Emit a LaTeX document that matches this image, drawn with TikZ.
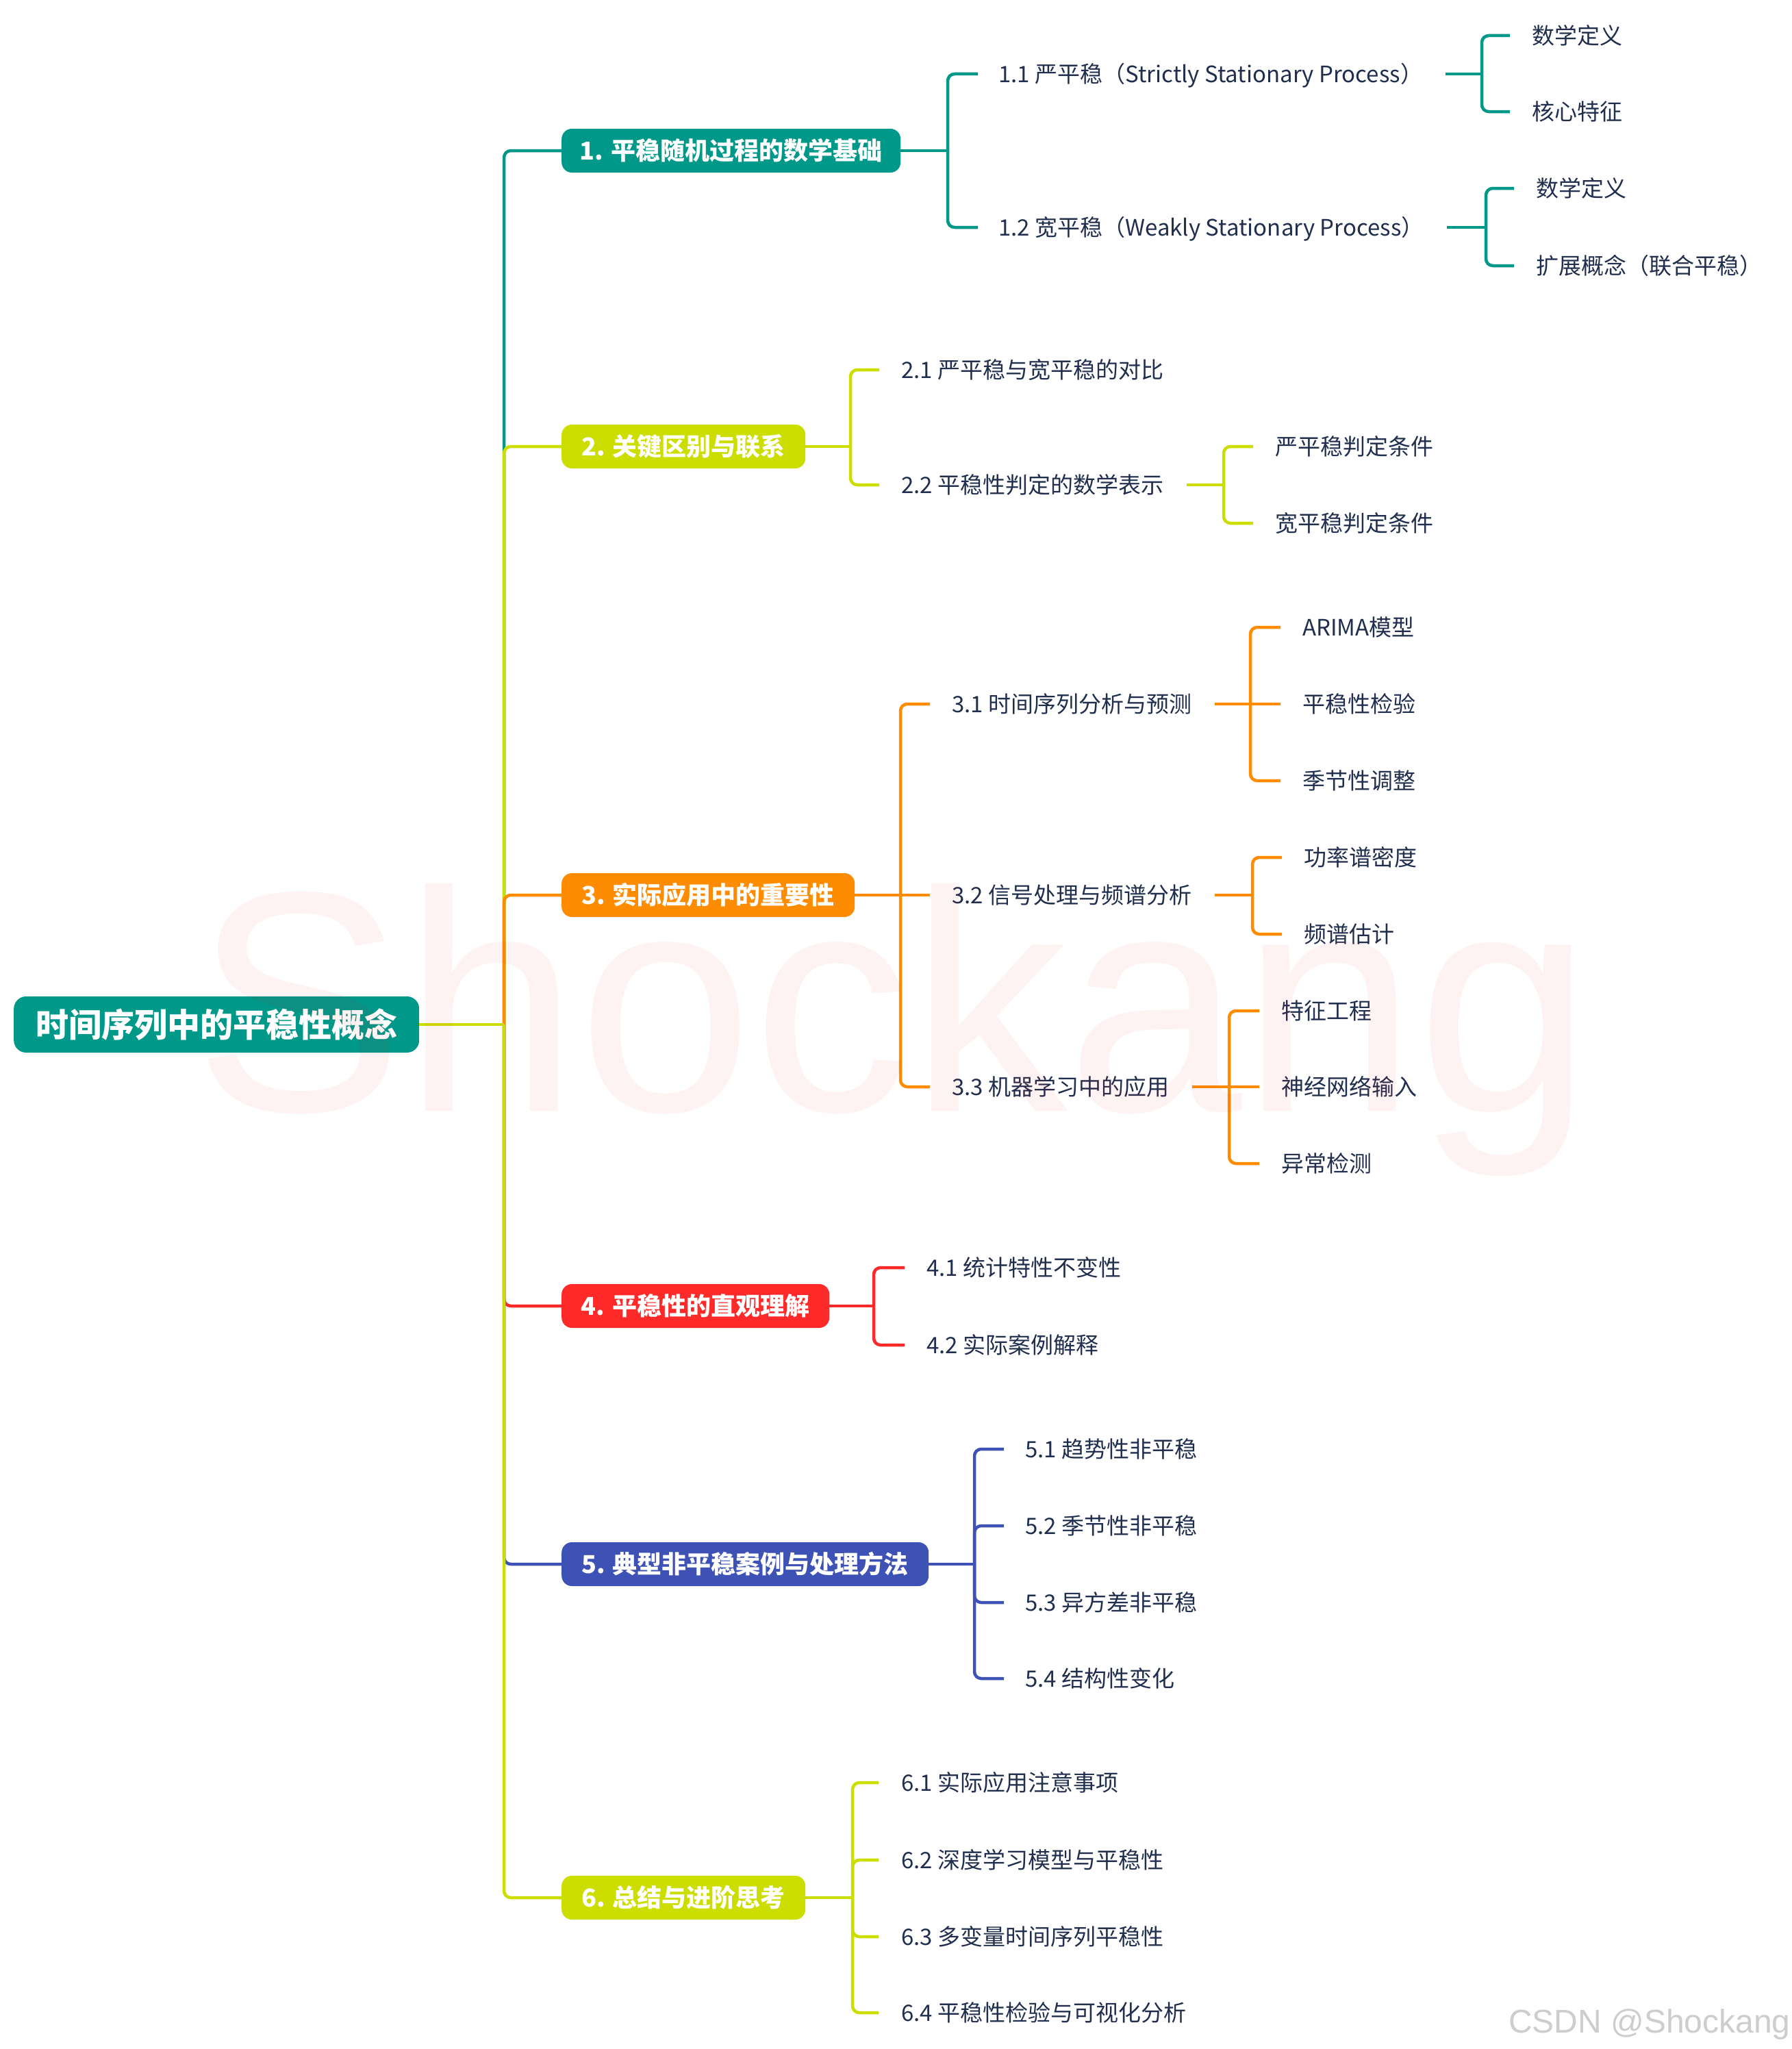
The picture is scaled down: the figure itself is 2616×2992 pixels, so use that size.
\documentclass[tikz,border=0pt]{standalone}
\usepackage{fontspec}
\setmainfont{Noto Sans CJK SC}
\newfontfamily\wmfam{Liberation Sans}
\definecolor{tealc}{RGB}{0,152,136}
\definecolor{ygc}{RGB}{204,221,0}
\definecolor{orc}{RGB}{255,140,0}
\definecolor{redc}{RGB}{254,42,42}
\definecolor{bluc}{RGB}{62,81,181}
\definecolor{navy}{RGB}{33,46,77}
\definecolor{csdng}{RGB}{205,205,205}
\newcommand\rootfnt{\fontsize{48pt}{48pt}\selectfont\bfseries}
\newcommand\brfnt{\fontsize{36pt}{36pt}\selectfont\bfseries}
\newcommand\subfnt{\fontsize{33pt}{33pt}\selectfont}
\newcommand\wmfnt{\wmfam\fontsize{459pt}{459pt}\selectfont}
\newcommand\csdnfnt{\wmfam\fontsize{48pt}{48pt}\selectfont}
\begin{document}
\begin{tikzpicture}[x=1pt,y=-1pt,
  ln/.style={line width=4.5pt, rounded corners=10pt},
  rootbox/.style={fill=tealc, text=white, font=\rootfnt, rounded corners=18pt, anchor=west,
    inner xsep=0pt, minimum width=592pt, minimum height=82pt, text height=42.2pt, text depth=5.8pt},
  rbox/.style={fill=#1, text=white, font=\brfnt, rounded corners=15pt, anchor=west,
    inner xsep=0pt, minimum height=64pt, text height=31.7pt, text depth=4.3pt},
  sub/.style={text=navy, font=\subfnt, anchor=west, inner sep=0pt, text height=29pt, text depth=4pt}]
\fill[white] (0,0) rectangle (2616,2992);
\useasboundingbox (0,0) rectangle (2616,2992);

% root and branches
\node[rootbox] (root) at (20,1496) {时间序列中的平稳性概念};
\coordinate (j0) at (736,1496);
\node[rbox=tealc, minimum width=495pt] (b1) at (820,220) {1. 平稳随机过程的数学基础};
\node[rbox=ygc, minimum width=356pt] (b2) at (820,652) {2. 关键区别与联系};
\node[rbox=orc, minimum width=428pt] (b3) at (820,1307) {3. 实际应用中的重要性};
\node[rbox=redc, minimum width=391pt] (b4) at (820,1907) {4. 平稳性的直观理解};
\node[rbox=bluc, minimum width=536pt] (b5) at (820,2284) {5. 典型非平稳案例与处理方法};
\node[rbox=ygc, minimum width=356pt] (b6) at (820,2771) {6. 总结与进阶思考};

% level 2 and 3 texts
\node[sub] (s11) at (1458,108) {1.1 严平稳（Strictly Stationary Process）};
\node[sub] (s12) at (1458,332) {1.2 宽平稳（Weakly Stationary Process）};
\node[sub] (l111) at (2237,52) {数学定义};
\node[sub] (l112) at (2237,163) {核心特征};
\node[sub] (l121) at (2243,275) {数学定义};
\node[sub] (l122) at (2243,388) {扩展概念（联合平稳）};

\node[sub] (s21) at (1316,540) {2.1 严平稳与宽平稳的对比};
\node[sub] (s22) at (1316,708) {2.2 平稳性判定的数学表示};
\node[sub] (l221) at (1862,652) {严平稳判定条件};
\node[sub] (l222) at (1862,764) {宽平稳判定条件};

\node[sub] (s31) at (1390,1028) {3.1 时间序列分析与预测};
\node[sub] (s32) at (1390,1307) {3.2 信号处理与频谱分析};
\node[sub] (s33) at (1390,1587) {3.3 机器学习中的应用};
\node[sub] (l311) at (1902,916) {ARIMA模型};
\node[sub] (l312) at (1902,1028) {平稳性检验};
\node[sub] (l313) at (1902,1140) {季节性调整};
\node[sub] (l321) at (1904,1252) {功率谱密度};
\node[sub] (l322) at (1904,1364) {频谱估计};
\node[sub] (l331) at (1871,1476) {特征工程};
\node[sub] (l332) at (1871,1587) {神经网络输入};
\node[sub] (l333) at (1871,1699) {异常检测};

\node[sub] (s41) at (1353,1851) {4.1 统计特性不变性};
\node[sub] (s42) at (1353,1964) {4.2 实际案例解释};

\node[sub] (s51) at (1497,2116) {5.1 趋势性非平稳};
\node[sub] (s52) at (1497,2228) {5.2 季节性非平稳};
\node[sub] (s53) at (1497,2340) {5.3 异方差非平稳};
\node[sub] (s54) at (1497,2451) {5.4 结构性变化};

\node[sub] (s61) at (1316,2603) {6.1 实际应用注意事项};
\node[sub] (s62) at (1316,2716) {6.2 深度学习模型与平稳性};
\node[sub] (s63) at (1316,2828) {6.3 多变量时间序列平稳性};
\node[sub] (s64) at (1316,2939) {6.4 平稳性检验与可视化分析};

% junctions
\coordinate (j1) at (1384,220);
\coordinate (j2) at (1242,652);
\coordinate (j3) at (1315,1307);
\coordinate (j4) at (1276,1907);
\coordinate (j5) at (1423,2284);
\coordinate (j6) at (1245,2771);
\coordinate (j11) at (2164,108);
\coordinate (j12) at (2170,332);
\coordinate (j22) at (1787,708);
\coordinate (j31) at (1826,1028);
\coordinate (j32) at (1829,1307);
\coordinate (j33) at (1795,1587);

% trunk
\draw[ln, tealc] (j0) |- (b1.west);
\draw[ln, ygc] (j0) |- (b2.west);
\draw[ln, orc] (j0) |- (b3.west);
\draw[ln, redc] (j0) |- (b4.west);
\draw[ln, bluc] (j0) |- (b5.west);
\draw[ln, ygc] (j0) |- (b6.west);
\draw[ln, ygc] (root.east) -- (j0);

% branch 1
\draw[ln, tealc] (b1.east) -- (j1);
\draw[ln, tealc] (j1) |- ([xshift=-30pt]s11.west);
\draw[ln, tealc] (j1) |- ([xshift=-30pt]s12.west);
\draw[ln, tealc] ([xshift=33pt]s11.east) -- (j11);
\draw[ln, tealc] (j11) |- ([xshift=-32pt]l111.west);
\draw[ln, tealc] (j11) |- ([xshift=-32pt]l112.west);
\draw[ln, tealc] ([xshift=33pt]s12.east) -- (j12);
\draw[ln, tealc] (j12) |- ([xshift=-32pt]l121.west);
\draw[ln, tealc] (j12) |- ([xshift=-32pt]l122.west);

% branch 2
\draw[ln, ygc] (b2.east) -- (j2);
\draw[ln, ygc] (j2) |- ([xshift=-32pt]s21.west);
\draw[ln, ygc] (j2) |- ([xshift=-32pt]s22.west);
\draw[ln, ygc] ([xshift=33pt]s22.east) -- (j22);
\draw[ln, ygc] (j22) |- ([xshift=-32pt]l221.west);
\draw[ln, ygc] (j22) |- ([xshift=-32pt]l222.west);

% branch 3
\draw[ln, orc] (b3.east) -- (j3);
\draw[ln, orc] (j3) |- ([xshift=-32pt]s31.west);
\draw[ln, orc] (j3) -- ([xshift=-32pt]s32.west);
\draw[ln, orc] (j3) |- ([xshift=-32pt]s33.west);
\draw[ln, orc] ([xshift=33pt]s31.east) -- (j31);
\draw[ln, orc] (j31) |- ([xshift=-32pt]l311.west);
\draw[ln, orc] (j31) -- ([xshift=-32pt]l312.west);
\draw[ln, orc] (j31) |- ([xshift=-32pt]l313.west);
\draw[ln, orc] ([xshift=33pt]s32.east) -- (j32);
\draw[ln, orc] (j32) |- ([xshift=-32pt]l321.west);
\draw[ln, orc] (j32) |- ([xshift=-32pt]l322.west);
\draw[ln, orc] ([xshift=33pt]s33.east) -- (j33);
\draw[ln, orc] (j33) |- ([xshift=-32pt]l331.west);
\draw[ln, orc] (j33) -- ([xshift=-32pt]l332.west);
\draw[ln, orc] (j33) |- ([xshift=-32pt]l333.west);

% branch 4
\draw[ln, redc] (b4.east) -- (j4);
\draw[ln, redc] (j4) |- ([xshift=-32pt]s41.west);
\draw[ln, redc] (j4) |- ([xshift=-32pt]s42.west);

% branch 5
\draw[ln, bluc] (b5.east) -- (j5);
\draw[ln, bluc] (j5) |- ([xshift=-31pt]s51.west);
\draw[ln, bluc] (j5) |- ([xshift=-31pt]s52.west);
\draw[ln, bluc] (j5) |- ([xshift=-31pt]s53.west);
\draw[ln, bluc] (j5) |- ([xshift=-31pt]s54.west);

% branch 6
\draw[ln, ygc] (b6.east) -- (j6);
\draw[ln, ygc] (j6) |- ([xshift=-33pt]s61.west);
\draw[ln, ygc] (j6) |- ([xshift=-33pt]s62.west);
\draw[ln, ygc] (j6) |- ([xshift=-33pt]s63.west);
\draw[ln, ygc] (j6) |- ([xshift=-33pt]s64.west);

% watermarks
\node[anchor=base west, inner sep=0pt, font=\csdnfnt, text=csdng] (csdn) at (2203,2968) {CSDN @Shockang};
\node[anchor=base west, inner sep=0pt, font=\wmfnt, text=red, text opacity=0.05] (wm) at (283,1622) {Shockang};
\end{tikzpicture}
\end{document}
